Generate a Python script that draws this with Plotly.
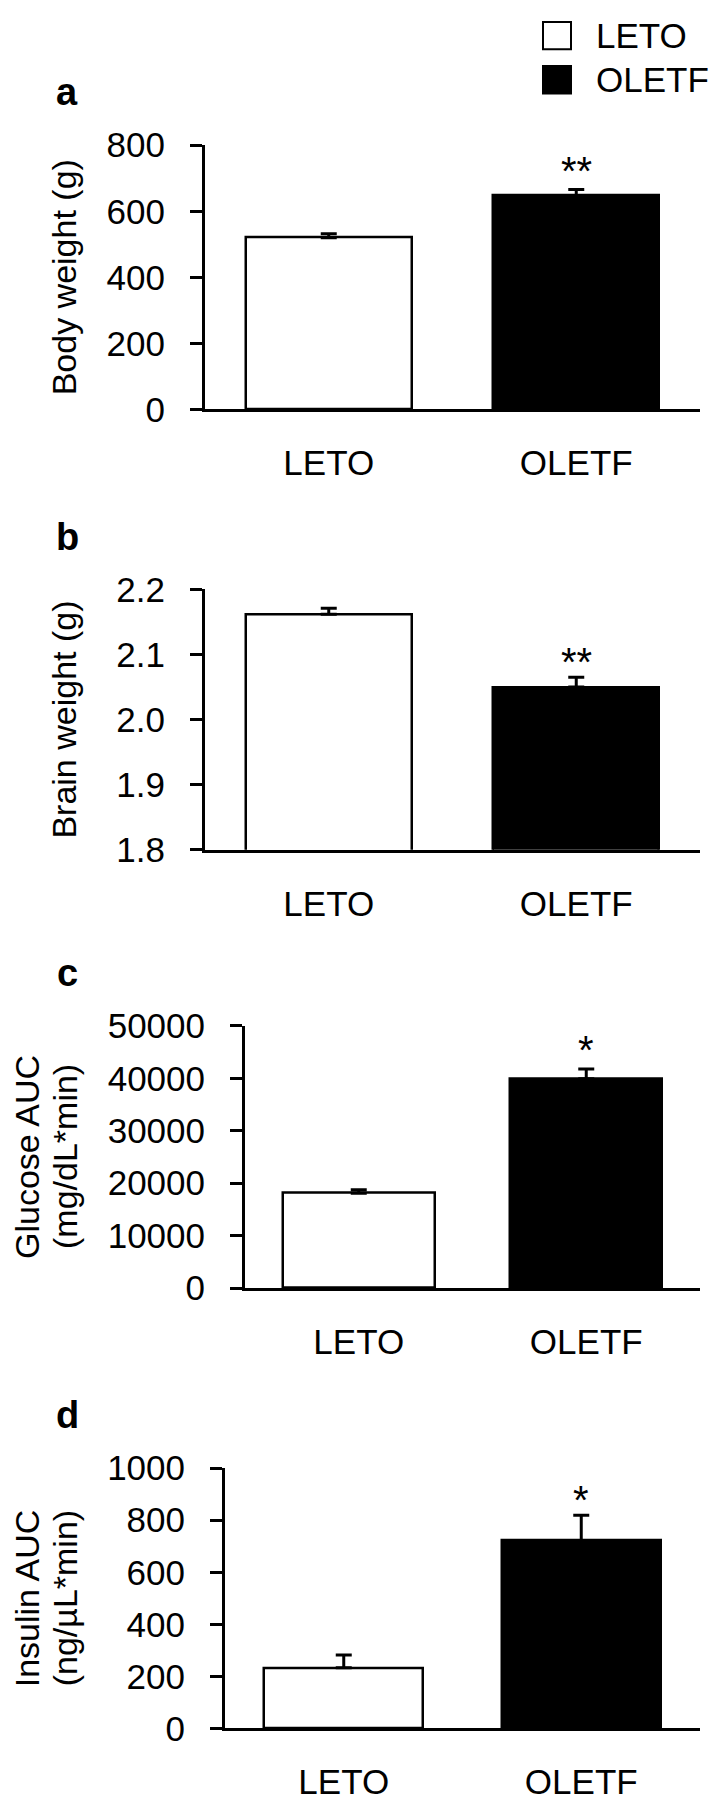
import plotly.graph_objects as go

# data
groups = ["LETO", "OLETF"]
bar_colors = ["white", "black"]

body_weight = [520, 648]
body_weight_err = [12, 18]
brain_weight = [2.162, 2.050]
brain_weight_err = [0.009, 0.015]
glucose_auc = [18100, 39900]
glucose_auc_err = [650, 1900]
insulin_auc = [233, 722]
insulin_auc_err = [49, 97]

panel_letters = ["a", "b", "c", "d"]
y_titles = [["Body weight (g)"], ["Brain weight (g)"],
            ["Glucose AUC", "(mg/dL*min)"], ["Insulin AUC", "(ng/µL*min)"]]
y_ranges = [[0, 800], [1.8, 2.2], [0, 50000], [0, 1000]]
y_tickvals = [[0, 200, 400, 600, 800],
              [1.8, 1.9, 2.0, 2.1, 2.2],
              [0, 10000, 20000, 30000, 40000, 50000],
              [0, 200, 400, 600, 800, 1000]]
y_ticktext = [["0", "200", "400", "600", "800"],
              ["1.8", "1.9", "2.0", "2.1", "2.2"],
              ["0", "10000", "20000", "30000", "40000", "50000"],
              ["0", "200", "400", "600", "800", "1000"]]
stars = ["**", "**", "*", "*"]
star_y = [742, 2.099, 46800, 905]

values = [body_weight, brain_weight, glucose_auc, insulin_auc]
errors = [body_weight_err, brain_weight_err, glucose_auc_err, insulin_auc_err]

# layout in pixels
W, H = 711, 1812
axis_left = [205, 205, 245, 225]
axis_right = 700
plot_top = [128, 582, 1028, 1480]
plot_bottom = [398, 848, 1296, 1746]

FONT = "Liberation Sans, Arial, sans-serif"


def fx(px):
    return px / W


def fy(py):
    return 1 - py / H


fig = go.Figure()
annotations = []
layout_axes = {}

for i in range(4):
    n = "" if i == 0 else str(i + 1)
    fig.add_trace(go.Bar(
        x=groups, y=values[i], width=0.67,
        marker=dict(color=bar_colors, line=dict(color="black", width=2.5)),
        error_y=dict(type="data", symmetric=False, array=errors[i],
                     arrayminus=[0, 0], color="black", thickness=3, width=8),
        xaxis="x" + n, yaxis="y" + n, showlegend=False,
    ))
    layout_axes["xaxis" + n] = dict(
        domain=[fx(axis_left[i]), fx(axis_right)], anchor="y" + n,
        range=[-0.5, 1.5], showline=True, linecolor="black", linewidth=3,
        ticks="", ticklabelstandoff=21, showgrid=False, zeroline=False,
        tickfont=dict(size=35, color="black", family=FONT),
    )
    layout_axes["yaxis" + n] = dict(
        domain=[fy(plot_bottom[i]), fy(plot_top[i])], anchor="x" + n,
        range=y_ranges[i], tickvals=y_tickvals[i], ticktext=y_ticktext[i],
        showline=True, linecolor="black", linewidth=3,
        ticks="outside", ticklen=12, tickwidth=3, tickcolor="black",
        ticklabelstandoff=18, showgrid=False, zeroline=False,
        tickfont=dict(size=35, color="black", family=FONT),
    )
    # panel letter
    annotations.append(dict(
        text="<b>%s</b>" % panel_letters[i], xref="paper", yref="paper",
        x=fx(67), y=fy(plot_top[i] - 54), showarrow=False,
        font=dict(size=38, color="black", family=FONT),
        xanchor="center", yanchor="middle",
    ))
    # y titles
    title_lines = y_titles[i]
    xs = [64] if len(title_lines) == 1 else [27, 65]
    for t, xp in zip(title_lines, xs):
        annotations.append(dict(
            text=t, xref="paper", yref="paper", textangle=-90,
            x=fx(xp), y=fy((plot_top[i] + plot_bottom[i]) / 2),
            showarrow=False, xanchor="center", yanchor="middle",
            font=dict(size=34, color="black", family=FONT),
        ))
    # significance stars
    annotations.append(dict(
        text=stars[i], xref="x" + n, yref="y" + n, x=groups[1], y=star_y[i],
        showarrow=False, xanchor="center", yanchor="middle", yshift=-7,
        font=dict(size=40, color="black", family=FONT),
    ))

# legend drawn by hand
shapes = []
legend_rows = [16, 61]
for name, col, yc in zip(groups, bar_colors, legend_rows):
    shapes.append(dict(
        type="rect", xref="paper", yref="paper",
        x0=fx(543), x1=fx(571), y0=fy(yc + 14), y1=fy(yc - 14),
        fillcolor=col, line=dict(color="black", width=2),
    ))
    annotations.append(dict(
        text=name, xref="paper", yref="paper", x=fx(594), y=fy(yc),
        showarrow=False, xanchor="left", yanchor="middle",
        font=dict(size=35, color="black", family=FONT),
    ))

fig.update_layout(
    width=W, height=H, margin=dict(l=0, r=0, t=0, b=0),
    paper_bgcolor="white", plot_bgcolor="white",
    annotations=annotations, shapes=shapes, bargap=0,
    **layout_axes,
)

# page margin off so the figure sits at the window origin
fig.write_html("out.html", config={"displayModeBar": False},
               post_script="document.body.style.margin='0';"
                           "document.body.style.overflow='hidden';")
